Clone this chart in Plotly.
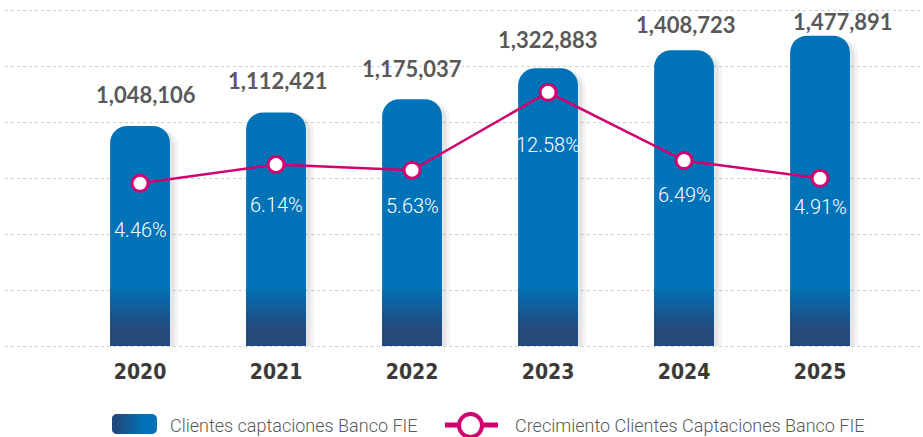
import math
import plotly.graph_objects as go

# ---------------- data ----------------
years = ["2020", "2021", "2022", "2023", "2024", "2025"]
clientes = [1048106, 1112421, 1175037, 1322883, 1408723, 1477891]
crecimiento = [4.46, 6.14, 5.63, 12.58, 6.49, 4.91]
bar_name = "Clientes captaciones Banco FIE"
line_name = "Crecimiento Clientes Captaciones Banco FIE"

clientes_labels = [f"{v:,}" for v in clientes]
crec_labels = [f"{v:.2f}%" for v in crecimiento]

# ---------------- layout constants ----------------
W, H = 923, 437
GRID_TOP, GRID_BOT, PAD = 10, 346, 3
ML, MR = 5, 0
MT = GRID_TOP - PAD
MB = H - (GRID_BOT + PAD)
PW, PH = W - ML - MR, H - MT - MB
GRID_H = GRID_BOT - GRID_TOP
Y_MAX = 1_600_000
UNITS_PER_PX = Y_MAX / GRID_H
Y2_LO, Y2_HI = -10.05, 19.92
Y2_PER_PX = (Y2_HI - Y2_LO) / GRID_H
X_RANGE = [-0.993, 5.757]
BAR_W = 0.44

BLUE = "#0072b8"
NAVY = "#234a7b"
MAGENTA = "#d1006f"

# label offsets (style only)
value_yshift = [31, 32, 31, 29, 26, 14]
value_xshift = [6, 2, 0, 0, 2, 23]
pct_yshift = [-47, -41, -36, -53, -34, -29]


def hex2rgb(h):
    h = h.lstrip("#")
    return tuple(int(h[i:i + 2], 16) for i in (0, 2, 4))


def mix(c1, c2, t):
    a, b = hex2rgb(c1), hex2rgb(c2)
    return "rgb({},{},{})".format(*[round(a[i] + (b[i] - a[i]) * t) for i in range(3)])


fig = go.Figure()

# soft shadow on the right side of bars
for off, alpha in [(0.06, 0.045), (0.035, 0.06)]:
    fig.add_trace(go.Bar(
        x=years, y=[v - 3 * UNITS_PER_PX for v in clientes],
        width=BAR_W, offset=-BAR_W / 2 + off,
        marker=dict(color=f"rgba(0,0,0,{alpha})", cornerradius=17, line=dict(width=0)),
        hoverinfo="skip", showlegend=False,
    ))

# main bars
fig.add_trace(go.Bar(
    x=years, y=clientes, name=bar_name,
    width=BAR_W,
    marker=dict(color=BLUE, cornerradius=17, line=dict(width=0)),
    showlegend=False,
))

# vertical gradient towards the base of each bar (decorative bands)
grad_px = [58, 54, 50, 46, 42, 38, 34, 30, 26, 22, 18]
n = len(grad_px)
for k, hpx in enumerate(grad_px):
    t = (k + 1) / n
    fig.add_trace(go.Bar(
        x=years, y=[hpx * UNITS_PER_PX] * len(years),
        width=BAR_W,
        marker=dict(color=mix(BLUE, NAVY, t), line=dict(width=0)),
        hoverinfo="skip", showlegend=False,
    ))

# growth line
fig.add_trace(go.Scatter(
    x=years, y=crecimiento, yaxis="y2", name=line_name,
    mode="lines+markers",
    line=dict(color=MAGENTA, width=2.5),
    marker=dict(size=16, color="white", line=dict(color=MAGENTA, width=3)),
    showlegend=False,
))

annotations = []
for i, yr in enumerate(years):
    annotations.append(dict(
        x=i, y=clientes[i], xref="x", yref="y",
        text=clientes_labels[i], showarrow=False,
        yshift=value_yshift[i], xshift=value_xshift[i],
        yanchor="middle", xanchor="center",
        font=dict(family="Lato, sans-serif", size=22, color="#595959", weight=700),
    ))
    annotations.append(dict(
        x=i, y=crecimiento[i], xref="x", yref="y2",
        text=crec_labels[i], showarrow=False,
        yshift=pct_yshift[i], yanchor="middle", xanchor="center",
        font=dict(family="Roboto, sans-serif", size=20, color="white", weight=300),
    ))


# ---------------- manual legend ----------------
def px(x):
    return (x - ML) / PW


def py(y):
    return (MT + PH - y) / PH


def strip_path(xa, xb, x0, x1, y0, y1, r):
    pts_top, pts_bot = [], []
    steps = max(2, int((xb - xa) / 0.5))
    for s in range(steps + 1):
        x = xa + (xb - xa) * s / steps
        d = max(0.0, x0 + r - x, x - (x1 - r))
        d = min(d, r)
        inset = r - math.sqrt(max(r * r - d * d, 0.0)) if d > 0 else 0.0
        pts_top.append((x, y0 + inset))
        pts_bot.append((x, y1 - inset))
    pts = pts_top + pts_bot[::-1]
    return "M " + " L ".join(f"{px(a):.5f},{py(b):.5f}" for a, b in pts) + " Z"


shapes = []
LX0, LX1, LY0, LY1, LR = 112, 157, 414, 434, 5
shapes.append(dict(type="path", xref="paper", yref="paper",
                   path=strip_path(LX0, LX1, LX0, LX1, LY0, LY1, LR),
                   fillcolor=BLUE, line=dict(width=0), layer="above"))
nstrip = 16
sw = (LX1 - LX0) * 0.7 / nstrip
for s in range(nstrip):
    xa = LX0 + s * sw
    xb = min(xa + sw + 0.6, LX1)
    c = (xa + sw / 2 - LX0) / ((LX1 - LX0) * 0.7)
    t = min(max((c - 0.15) / 0.85, 0), 1)
    shapes.append(dict(type="path", xref="paper", yref="paper",
                       path=strip_path(xa, xb, LX0, LX1, LY0, LY1, LR),
                       fillcolor=mix(NAVY, BLUE, t), line=dict(width=0), layer="above"))

shapes.append(dict(type="line", xref="paper", yref="paper",
                   x0=px(445), x1=px(498), y0=py(425), y1=py(425),
                   line=dict(color=MAGENTA, width=5), layer="above"))
shapes.append(dict(type="circle", xref="paper", yref="paper",
                   x0=px(459), x1=px(482), y0=py(414), y1=py(437),
                   fillcolor="white", line=dict(color=MAGENTA, width=4), layer="above"))

for xt, txt in [(168, bar_name), (513, line_name)]:
    annotations.append(dict(
        x=px(xt), y=py(425), xref="paper", yref="paper", text=txt,
        showarrow=False, xanchor="left", yanchor="middle",
        font=dict(family="Roboto, sans-serif", size=18, color="#58595b", weight=300),
    ))

fig.update_layout(
    width=W, height=H, autosize=False,
    margin=dict(l=ML, r=MR, t=MT, b=MB, pad=0),
    paper_bgcolor="white", plot_bgcolor="white",
    barmode="overlay", showlegend=False,
    xaxis=dict(
        type="category", range=X_RANGE, showgrid=False, zeroline=False, showline=False,
        ticks="outside", ticklen=4, tickcolor="rgba(0,0,0,0)",
        tickfont=dict(family="DejaVu Sans Condensed, Liberation Sans Narrow, sans-serif",
                      size=21, color="#3a3a3a", weight=700),
    ),
    yaxis=dict(
        range=[-PAD * UNITS_PER_PX, Y_MAX + PAD * UNITS_PER_PX],
        tickvals=[Y_MAX * i / 6 for i in range(7)],
        showticklabels=False, showgrid=True, gridcolor="#d0d0d0", gridwidth=1,
        griddash="dot", zeroline=False, showline=False, ticks="",
    ),
    yaxis2=dict(
        range=[Y2_LO - PAD * Y2_PER_PX, Y2_HI + PAD * Y2_PER_PX],
        overlaying="y", side="right", showgrid=False,
        showticklabels=False, zeroline=False, showline=False, ticks="",
    ),
    annotations=annotations,
    shapes=shapes,
)

fig.write_html("out.html", config={"displayModeBar": False},
               post_script="document.body.style.margin='0';")
